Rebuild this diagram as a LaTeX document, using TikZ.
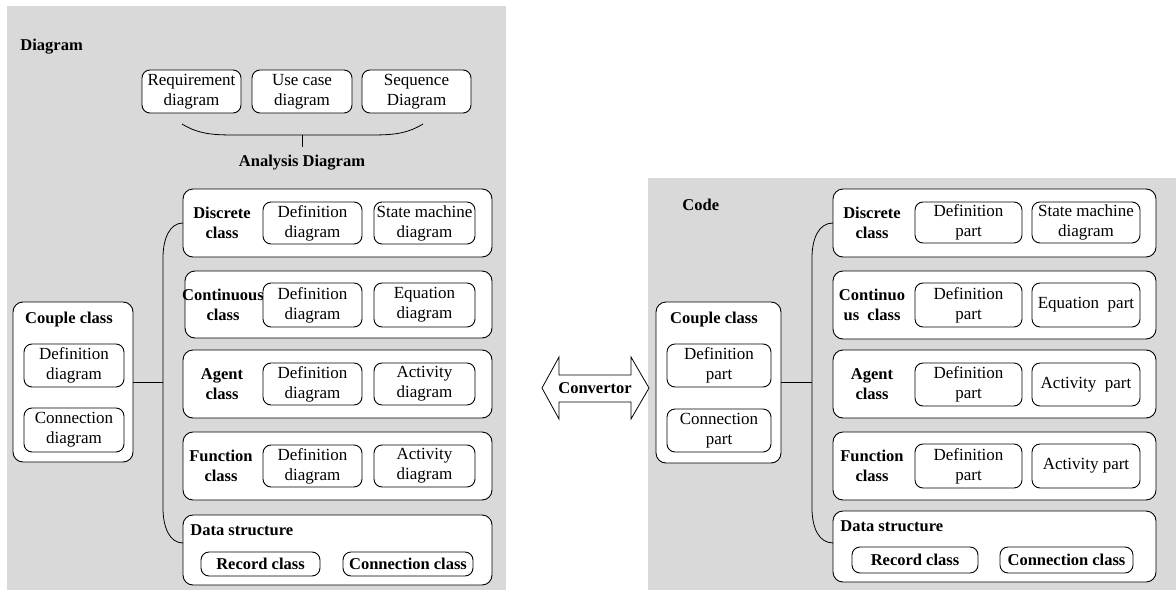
\documentclass[tikz,border=0pt]{standalone}
\usepackage{fontspec}
\setmainfont{Liberation Serif}
\usetikzlibrary{calc}
\definecolor{panelgray}{HTML}{D9D9D9}
\begin{document}
\begin{tikzpicture}[x=1pt,y=-1pt,
  font=\fontsize{17}{20}\selectfont,
  line width=0.9pt,
  sz/.style 2 args={minimum width=#1pt, minimum height=#2pt},
  panel/.style={fill=panelgray, draw=none},
  bigbox/.style={draw, fill=white, rounded corners=10pt, inner sep=0pt, outer sep=0pt},
  subbox/.style={draw, fill=white, rounded corners=8pt, inner sep=0pt, outer sep=0pt, align=center},
  cls/.style={font=\fontsize{16.5}{20}\selectfont\bfseries, align=center, inner sep=0pt},
  heading/.style={font=\fontsize{16.5}{20}\selectfont\bfseries, inner sep=0pt},
  boldbox/.style={font=\fontsize{16.5}{20}\selectfont\bfseries},
  link/.style={line width=0.8pt}
]
\useasboundingbox (0,0) rectangle (1176,592);

% ---------------- background panels ----------------
\fill[panel] (7,6) rectangle (506,590);
\fill[panel] (648,178) rectangle (1176,590);

% ================= Diagram side =================
\node[heading, anchor=west] (diagTitle) at (20,47) {Diagram};

\node[subbox, sz={99}{43}] (req) at (191.5,91.5) {Requirement\\diagram};
\node[subbox, sz={100}{43}] (use) at (302,91.5) {Use case\\diagram};
\node[subbox, sz={109}{43}] (seq) at (416.5,91.5) {Sequence\\Diagram};

% brace grouping the analysis diagrams
\coordinate (brL) at (182,124);
\coordinate (brR) at (423,124);
\coordinate (brM) at (302,135);
\node[heading] (analysis) at (302,163) {Analysis Diagram};
\draw[link] (brL) .. controls (200,135) and (215,135) .. (240,135)
  -- (365,135) .. controls (390,135) and (405,135) .. (brR);
\draw[link] (brM) -- ($(analysis.north)+(0,-8)$);

% discrete class
\node[bigbox, sz={309}{68}] (dL) at (337.5,223) {};
\node[cls] (dLl) at (222,223) {Discrete\\class};
\node[subbox, sz={99}{42}] (dL1) at (312.5,223) {Definition\\diagram};
\node[subbox, sz={101}{42}] (dL2) at (424.5,223) {State machine\\diagram};

% continuous class
\node[bigbox, sz={307}{67}] (cL) at (338.5,304.5) {};
\node[cls] (cLl) at (223,305) {Continuous\\class};
\node[subbox, sz={99}{44}] (cL1) at (312.5,305) {Definition\\diagram};
\node[subbox, sz={101}{44}] (cL2) at (424.5,305) {Equation\\diagram};

% agent class
\node[bigbox, sz={309}{68}] (aL) at (337.5,384) {};
\node[cls] (aLl) at (222,384) {Agent\\class};
\node[subbox, sz={99}{42}] (aL1) at (312.5,384) {Definition\\diagram};
\node[subbox, sz={101}{42}] (aL2) at (424.5,384) {Activity\\diagram};

% function class
\node[bigbox, sz={309}{68}] (fL) at (337.5,466) {};
\node[cls] (fLl) at (221,466) {Function\\class};
\node[subbox, sz={99}{42}] (fL1) at (312.5,466) {Definition\\diagram};
\node[subbox, sz={101}{42}] (fL2) at (424.5,466) {Activity\\diagram};

% data structure
\node[bigbox, sz={309}{70}] (sL) at (337.5,550) {};
\node[heading, anchor=west] (sLl) at (190,530) {Data structure};
\node[subbox, boldbox, sz={119}{24}] (sL1) at (260.5,564) {Record class};
\node[subbox, boldbox, sz={130}{24}] (sL2) at (408,564) {Connection class};

% couple class
\node[bigbox, sz={120}{160}] (pL) at (73,382) {};
\node[heading] (pLl) at (69,320) {Couple class};
\node[subbox, sz={100}{43}] (pL1) at (74,365.5) {Definition\\diagram};
\node[subbox, sz={100}{44}] (pL2) at (74,430) {Connection\\diagram};

% bracket joining couple class to the class boxes
\coordinate (jL) at (163,382);
\coordinate (jLt) at (163,258);
\coordinate (jLb) at (163,508);
\coordinate (sLin) at ($(sL.north west)!0.4!(sL.south west)$);
\draw[link] (pL.east) -- (jL);
\draw[link] (dL.west) .. controls (170,223) and (163,238) .. (jLt) -- (jLb)
  .. controls (163,528) and (170,543) .. (sLin);

% ================= Convertor =================
\draw[line width=0.8pt, fill=white]
  (542,388) -- (559,357) -- (559,375) -- (631,375) -- (631,357) -- (649,388)
  -- (631,419) -- (631,402) -- (559,402) -- (559,419) -- cycle;
\node[heading] (conv) at (595,388) {Convertor};

% ================= Code side =================
\node[heading, anchor=west] (codeTitle) at (682,205) {Code};

% discrete class
\node[bigbox, sz={323}{68}] (dR) at (994.5,223) {};
\node[cls] (dRl) at (872,223) {Discrete\\class};
\node[subbox, sz={107}{41}] (dR1) at (968.5,222.5) {Definition\\part};
\node[subbox, sz={108}{41}] (dR2) at (1086,222.5) {State machine\\diagram};

% continuous class
\node[bigbox, sz={323}{68}] (cR) at (994.5,305) {};
\node[cls] (cRl) at (872,305) {Continuo\\us\ \ class};
\node[subbox, sz={107}{44}] (cR1) at (968.5,305) {Definition\\part};
\node[subbox, sz={108}{44}] (cR2) at (1086,305) {Equation\ \ part};

% agent class
\node[bigbox, sz={323}{68}] (aR) at (994.5,384) {};
\node[cls] (aRl) at (872,384) {Agent\\class};
\node[subbox, sz={107}{43}] (aR1) at (968.5,384.5) {Definition\\part};
\node[subbox, sz={108}{43}] (aR2) at (1086,384.5) {Activity\ \ part};

% function class
\node[bigbox, sz={323}{68}] (fR) at (994.5,466) {};
\node[cls] (fRl) at (872,466) {Function\\class};
\node[subbox, sz={107}{44}] (fR1) at (968.5,466) {Definition\\part};
\node[subbox, sz={108}{44}] (fR2) at (1086,466) {Activity part};

% data structure
\node[bigbox, sz={323}{71}] (sR) at (994.5,546.5) {};
\node[heading, anchor=west] (sRl) at (840,526) {Data structure};
\node[subbox, boldbox, sz={126}{26}] (sR1) at (915,560) {Record class};
\node[subbox, boldbox, sz={133}{26}] (sR2) at (1066.5,560) {Connection class};

% couple class
\node[bigbox, sz={125}{161}] (pR) at (718.5,382.5) {};
\node[heading] (pRl) at (714,320) {Couple class};
\node[subbox, sz={104}{43}] (pR1) at (719,365.5) {Definition\\part};
\node[subbox, sz={104}{43}] (pR2) at (719,430.5) {Connection\\part};

% bracket joining couple class to the class boxes
\coordinate (jR) at (812,382.5);
\coordinate (jRt) at (812,258);
\coordinate (jRb) at (812,508);
\coordinate (sRin) at ($(sR.north west)!0.45!(sR.south west)$);
\draw[link] (pR.east) -- (jR);
\draw[link] (dR.west) .. controls (819,223) and (812,238) .. (jRt) -- (jRb)
  .. controls (812,528) and (819,543) .. (sRin);
\end{tikzpicture}
\end{document}
